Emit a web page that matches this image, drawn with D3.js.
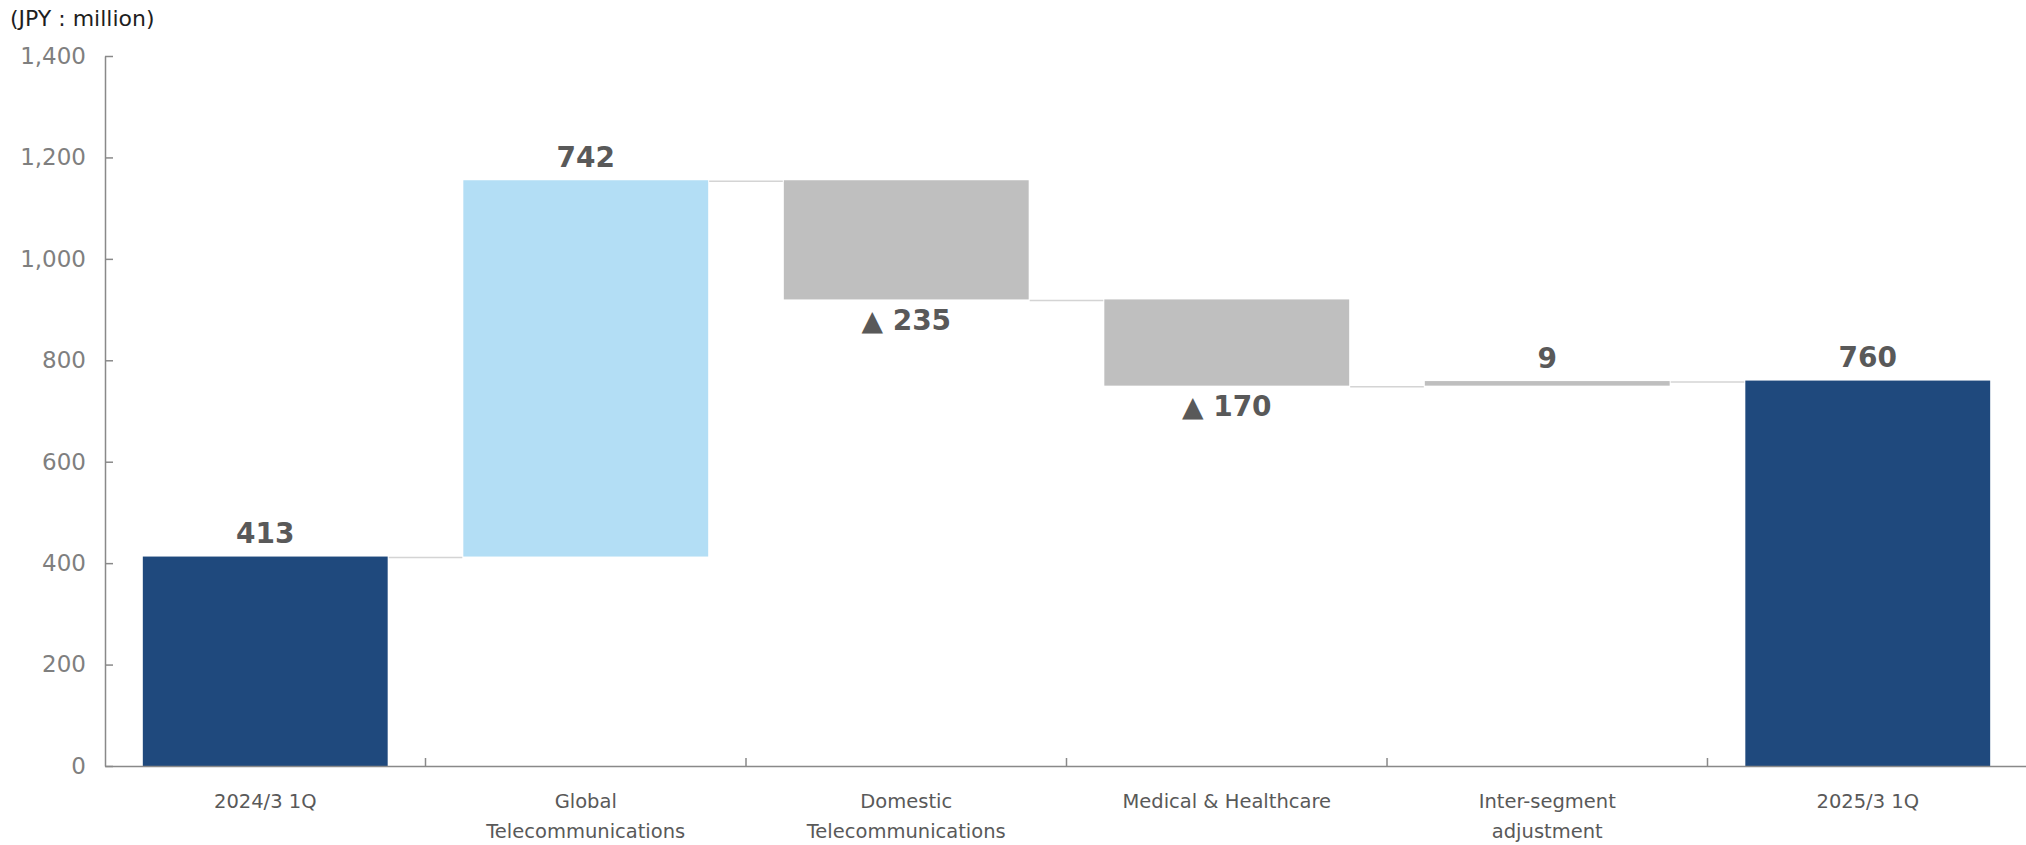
<!DOCTYPE html>
<html>
<head>
<meta charset="utf-8">
<script src="https://cdn.jsdelivr.net/npm/d3@7"></script>
<style>
  html, body { margin: 0; padding: 0; background: #fff; }
  svg { display: block; }
</style>
</head>
<body>
<svg id="chart" width="2026" height="845"></svg>
<script>
// ---- data ----
const categories = ["2024/3 1Q", "Global\nTelecommunications", "Domestic\nTelecommunications", "Medical & Healthcare", "Inter-segment\nadjustment", "2025/3 1Q"];
const values = [413, 742, -235, -170, 9, 760];
const kinds = ["total", "increase", "decrease", "decrease", "increase", "total"];
const yTicks = [0, 200, 400, 600, 800, 1000, 1200, 1400];
const unitLabel = "(JPY : million)";

// ---- layout ----
const plotLeft = 105, plotRight = 2028, plotTop = 56, plotBottom = 766;
const colors = { total: "#1F497D", increase: "#B3DEF5", decrease: "#BFBFBF" };
const fontFam = "'DejaVu Sans', Verdana, sans-serif";

const svg = d3.select("#chart");

const x = d3.scaleBand().domain(categories).range([plotLeft, plotRight]).paddingInner(0.236).paddingOuter(0.118);
const y = d3.scaleLinear().domain([0, 1400]).range([plotBottom, plotTop]);

// compute waterfall
let running = 0;
const bars = categories.map((c, i) => {
  let start, end;
  if (kinds[i] === "total") { start = 0; end = values[i]; running = values[i]; }
  else { start = running; end = running + values[i]; running = end; }
  return { cat: c, value: values[i], kind: kinds[i], start, end };
});
// 'Inter-segment' bar is drawn gray in the reference
bars[4].fill = colors.decrease;

// connectors
const connectors = bars.slice(0, -1).map((b, i) => ({
  x1: x(b.cat) + x.bandwidth(),
  x2: x(bars[i + 1].cat),
  level: b.end
}));
svg.append("g").selectAll("line").data(connectors).join("line")
  .attr("x1", d => d.x1 + 1).attr("x2", d => d.x2 - 1)
  .attr("y1", d => y(d.level) + 1).attr("y2", d => y(d.level) + 1)
  .attr("stroke", "#D4D4D4").attr("stroke-width", 1.5);

// bars
svg.append("g").selectAll("rect").data(bars).join("rect")
  .attr("x", d => x(d.cat))
  .attr("width", x.bandwidth())
  .attr("y", d => y(Math.max(d.start, d.end)))
  .attr("height", d => Math.abs(y(d.start) - y(d.end)))
  .attr("fill", d => d.fill || colors[d.kind]);

// y axis
const yAxis = d3.axisLeft(y).tickValues(yTicks).tickFormat(d3.format(",")).tickSizeInner(-8).tickSizeOuter(0).tickPadding(19);
const gy = svg.append("g").attr("transform", `translate(${plotLeft},0)`).call(yAxis);
gy.select(".domain").attr("stroke", "#898989").attr("stroke-width", 1.5);
gy.selectAll(".tick line").attr("stroke", "#898989").attr("stroke-width", 1.5);
gy.selectAll(".tick text").attr("fill", "#7F7F7F").style("font-family", fontFam).style("font-size", "23px");

// x axis
const xAxis = d3.axisBottom(x).tickSize(0).tickPadding(0).tickFormat("");
const gx = svg.append("g").attr("transform", `translate(0,${plotBottom})`).call(xAxis);
gx.select(".domain").attr("stroke", "#898989").attr("stroke-width", 1.5);
gx.selectAll(".tick").each(function(d) {
  const lines = d.split("\n");
  const t = d3.select(this).append("text")
    .attr("fill", "#595959").attr("text-anchor", "middle")
    .style("font-family", fontFam).style("font-size", "19.5px");
  lines.forEach((ln, k) => {
    t.append("tspan").attr("x", 0).attr("y", 35 + k * 30).attr("dominant-baseline", "central").text(ln);
  });
});
// boundary ticks
const boundaries = categories.slice(1).map(c => x(c) - x.step() * x.paddingInner() / 2);
gx.selectAll("line.bound").data(boundaries).join("line").attr("class", "bound")
  .attr("x1", d => d).attr("x2", d => d).attr("y1", 0).attr("y2", -8)
  .attr("stroke", "#898989").attr("stroke-width", 1.5);

// value labels
svg.append("g").selectAll("text").data(bars).join("text")
  .attr("x", d => x(d.cat) + x.bandwidth() / 2)
  .attr("y", d => d.value >= 0 ? y(Math.max(d.start, d.end)) - 23 : y(Math.min(d.start, d.end)) + 21)
  .attr("text-anchor", "middle").attr("dominant-baseline", "central")
  .attr("fill", "#595959")
  .style("font-family", fontFam).style("font-size", "28px").style("font-weight", "bold")
  .text(d => d.value >= 0 ? d3.format(",")(d.value) : "▲ " + d3.format(",")(-d.value));

// unit label
svg.append("text").attr("x", 10).attr("y", 18).attr("dominant-baseline", "central")
  .attr("fill", "#1E1E1E").style("font-family", fontFam).style("font-size", "22px")
  .text(unitLabel);
</script>
</body>
</html>
